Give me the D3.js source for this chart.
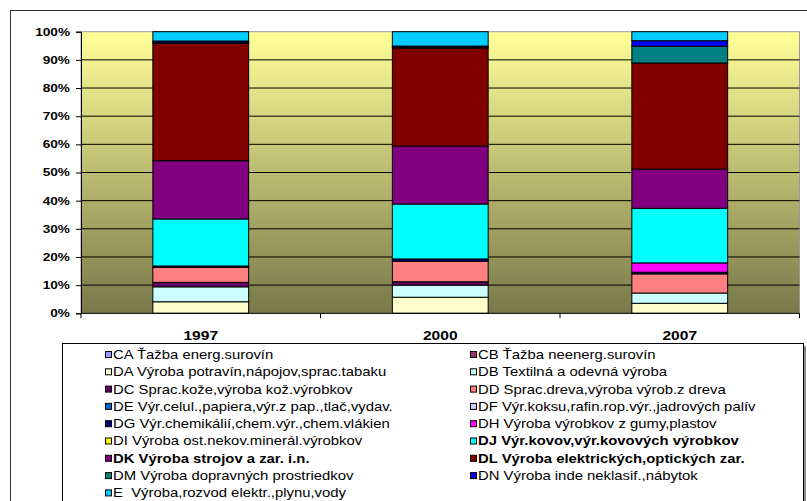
<!DOCTYPE html>
<html>
<head>
<meta charset="utf-8">
<script src="https://cdn.jsdelivr.net/npm/d3@7"></script>
<style>
  body { margin: 0; background: #fff; }
  text { font-family: "Liberation Sans", Arial, sans-serif; fill: #000; }
</style>
</head>
<body>
<svg id="chart" width="807" height="501"></svg>
<script>
// roky (kategórie)
const years = ["1997", "2000", "2007"];

// odvetvia - kód, popis, farba
const codes = ["CA", "CB", "DA", "DB", "DC", "DD", "DE", "DF", "DG", "DH", "DI", "DJ", "DK", "DL", "DM", "DN", "E"];
const labels = [
    "CA Ťažba energ.surovín",
    "CB Ťažba neenerg.surovín",
    "DA Výroba potravín,nápojov,sprac.tabaku",
    "DB Textilná a odevná výroba",
    "DC Sprac.kože,výroba kož.výrobkov",
    "DD Sprac.dreva,výroba výrob.z dreva",
    "DE Výr.celul.,papiera,výr.z pap.,tlač,vydav.",
    "DF Výr.koksu,rafin.rop.výr.,jadrových palív",
    "DG Výr.chemikálií,chem.výr.,chem.vlákien",
    "DH Výroba výrobkov z gumy,plastov",
    "DI Výroba ost.nekov.minerál.výrobkov",
    "DJ Výr.kovov,výr.kovových výrobkov",
    "DK Výroba strojov a zar. i.n.",
    "DL Výroba elektrických,optických zar.",
    "DM Výroba dopravných prostriedkov",
    "DN Výroba inde neklasif.,nábytok",
    "E  Výroba,rozvod elektr.,plynu,vody"
];
const colors = ["#9999FF", "#993366", "#FFFFCC", "#CCFFFF", "#660066", "#FF8080", "#0066CC", "#CCCCFF",
    "#000080", "#FF00FF", "#FFFF00", "#00FFFF", "#800080", "#800000", "#008080", "#0000FF", "#00CCFF"];
const boldCodes = ["DJ", "DK", "DL"];

// podiely v % (odčítané z grafu), poradie ako codes
const v1997 = [0, 0, 4.1, 5.3, 1.6, 5.3, 0, 0, 0.5, 0, 0, 16.7, 20.7, 41.7, 0.2, 0.6, 3.3];
const v2000 = [0, 0, 5.7, 4.3, 1.2, 7.3, 0, 0, 0.8, 0, 0, 19.5, 20.6, 34.8, 0.3, 0.4, 5.1];
const v2007 = [0, 0, 3.55, 3.65, 0, 6.8, 0, 0, 0.6, 3.3, 0, 19.4, 13.9, 37.7, 5.9, 2.0, 3.2];

const yTicks = [0, 0.1, 0.2, 0.3, 0.4, 0.5, 0.6, 0.7, 0.8, 0.9, 1];

const rows = [v1997, v2000, v2007].map((vals, i) => {
    const r = { year: years[i] };
    codes.forEach((c, j) => r[c] = vals[j]);
    return r;
});

const plot = { left: 81, right: 799.5, top: 31.7, bottom: 313.3 };
const svg = d3.select("#chart");

// vonkajší rámik grafu
svg.append("rect")
    .attr("x", 10.5).attr("y", 10.5).attr("width", 900).attr("height", 600)
    .attr("fill", "#fff").attr("stroke", "#333").attr("stroke-width", 1);

const x = d3.scaleBand().domain(years).range([plot.left, plot.right]).paddingInner(0.6).paddingOuter(0.3);
const y = d3.scaleLinear().domain([0, 1]).range([plot.bottom, plot.top]);
const color = d3.scaleOrdinal(codes, colors);

// pozadie s prechodom
const grad = svg.append("defs").append("linearGradient")
    .attr("id", "bg").attr("x1", 0).attr("y1", 0).attr("x2", 0).attr("y2", 1);
grad.append("stop").attr("offset", 0).attr("stop-color", "#FFFF99");
grad.append("stop").attr("offset", 1).attr("stop-color", "#78784A");

svg.append("rect")
    .attr("x", plot.left).attr("y", plot.top)
    .attr("width", plot.right - plot.left).attr("height", plot.bottom - plot.top)
    .attr("fill", "url(#bg)").attr("stroke", "#999").attr("stroke-width", 1);

// mriežka
svg.append("g").selectAll("line")
    .data(yTicks.filter(t => t > 0 && t < 1))
    .join("line")
    .attr("x1", plot.left).attr("x2", plot.right)
    .attr("y1", d => y(d)).attr("y2", d => y(d))
    .attr("stroke", "#000").attr("stroke-width", 1);

// stĺpce
const series = d3.stack().keys(codes).offset(d3.stackOffsetExpand)(rows);
svg.append("g").selectAll("g")
    .data(series)
    .join("g")
    .attr("fill", d => color(d.key))
    .selectAll("rect")
    .data(d => d.filter(p => p[1] - p[0] > 0))
    .join("rect")
    .attr("x", d => x(d.data.year))
    .attr("width", x.bandwidth())
    .attr("y", d => y(d[1]))
    .attr("height", d => y(d[0]) - y(d[1]))
    .attr("stroke", "#000").attr("stroke-width", 1);

// os Y
const yAxis = svg.append("g")
    .attr("transform", `translate(${plot.left},0)`)
    .call(d3.axisLeft(y).tickValues(yTicks).tickFormat(d3.format(".0%")).tickSize(5).tickPadding(0));
yAxis.select(".domain").attr("stroke", "#000");
yAxis.selectAll(".tick line").attr("stroke", "#000");
yAxis.selectAll(".tick text")
    .attr("x", 0).attr("dy", null).attr("dominant-baseline", "central")
    .attr("transform", "translate(-11,0) scale(1.3,1)")
    .style("font-size", "10.5px").style("font-weight", "bold").attr("fill", "#000");

// os X
const xAxis = svg.append("g").attr("transform", `translate(0,${plot.bottom})`);
xAxis.append("line")
    .attr("x1", plot.left).attr("x2", plot.right).attr("stroke", "#000");
const step = x.step();
xAxis.selectAll(".xt")
    .data(d3.range(years.length + 1))
    .join("line")
    .attr("x1", i => plot.left + i * step).attr("x2", i => plot.left + i * step)
    .attr("y1", 0).attr("y2", 5).attr("stroke", "#000");
xAxis.selectAll("text")
    .data(years)
    .join("text")
    .attr("text-anchor", "middle")
    .attr("transform", d => `translate(${x(d) + x.bandwidth() / 2},27) scale(1.3,1)`)
    .style("font-size", "12px").style("font-weight", "bold")
    .text(d => d);

// legenda
const leg = svg.append("g");
leg.append("rect")
    .attr("x", 64).attr("y", 346).attr("width", 742).attr("height", 200).attr("fill", "#888");
leg.append("rect")
    .attr("x", 62.5).attr("y", 343.5).attr("width", 741).attr("height", 200)
    .attr("fill", "#fff").attr("stroke", "#000").attr("stroke-width", 1);

const colX = [105, 470];
const rowY0 = 355, rowH = 17.3;
const item = leg.selectAll(".item")
    .data(codes)
    .join("g")
    .attr("transform", (d, i) => `translate(${colX[i % 2]},${rowY0 + Math.floor(i / 2) * rowH})`);
item.append("rect")
    .attr("x", 0.5).attr("y", -3.5).attr("width", 6).attr("height", 6)
    .attr("fill", d => color(d)).attr("stroke", "#000").attr("stroke-width", 1);
item.append("text")
    .attr("dominant-baseline", "central")
    .attr("transform", "translate(8,0) scale(1.24,1)")
    .style("font-size", "12px")
    .style("font-weight", d => boldCodes.includes(d) ? "bold" : "normal")
    .style("white-space", "pre")
    .text((d, i) => labels[i]);
</script>
</body>
</html>
